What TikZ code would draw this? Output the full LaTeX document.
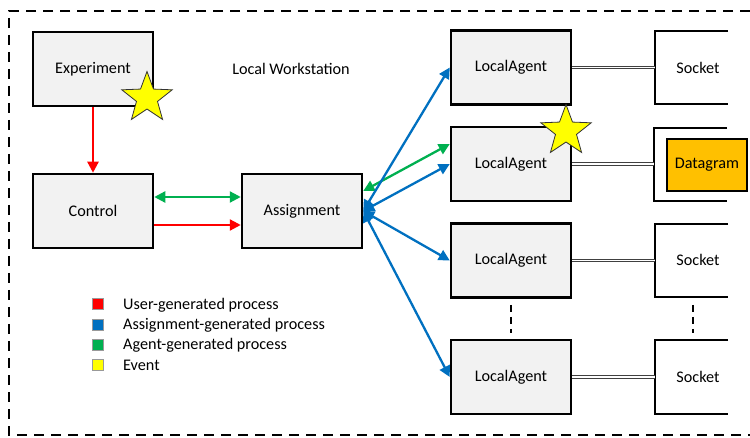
\documentclass[tikz,border=0pt]{standalone}
\usepackage{fontspec}
\setmainfont{Carlito}
\usetikzlibrary{arrows.meta,shapes.geometric}
\definecolor{boxgray}{HTML}{F2F2F2}
\definecolor{ured}{HTML}{FF0000}
\definecolor{ablue}{HTML}{0070C0}
\definecolor{agreen}{HTML}{00B050}
\definecolor{evyellow}{HTML}{FFFF00}
\definecolor{dgorange}{HTML}{FFC000}
\tikzset{
  proc/.style={draw=black, fill=boxgray, line width=2.5pt, minimum width=120pt, minimum height=74pt, inner sep=0pt},
  sockettext/.style={inner sep=0pt},
  bracket/.style={draw=black, line width=2.5pt},
  link/.style={draw=black!75, double=white, double distance=1.6pt, line width=0.8pt},
  flow/.style={line width=2.3pt, -{Triangle[length=11pt,width=11pt]}},
  dflow/.style={line width=2.3pt, {Triangle[length=11pt,width=11pt]}-{Triangle[length=11pt,width=11pt]}},
  event/.style={star, star points=5, star point ratio=2.4, minimum size=53pt, inner sep=0pt, fill=evyellow, draw=black!80, line width=0.8pt},
  legsq/.style={minimum width=11pt, minimum height=11pt, inner sep=0pt, draw=black!40, line width=0.4pt},
  legtext/.style={anchor=west, inner sep=0pt},
  sep/.style={line width=2.3pt, dash pattern=on 7pt off 5pt},
}
\begin{document}
\begin{tikzpicture}[x=1pt, y=-1pt, font=\fontsize{16.2}{19}\selectfont]
\useasboundingbox (0,0) rectangle (750,438);

% workstation boundary (open to the right)
\draw[line width=2.5pt, dash pattern=on 10pt off 7pt] (750,11) -- (9,11) -- (9,435) -- (750,435);
\node[inner sep=0pt] (ws) at (291,69) {Local Workstation};

% left-hand processes
\node[proc] (exp) at (93,69) {Experiment};
\node[proc] (ctl) at (93,211) {Control};
\node[proc] (asg) at (302,211) {Assignment};

% agents
\node[proc] (la1) at (511,67.5) {LocalAgent};
\node[proc] (la2) at (511,164) {LocalAgent};
\node[proc] (la3) at (511,260.5) {LocalAgent};
\node[proc] (la4) at (511,377) {LocalAgent};

% sockets: brackets open on the right
\coordinate (s1) at (655,67.5);
\coordinate (s2) at (654,164);
\coordinate (s3) at (655,260.5);
\coordinate (s4) at (655,377);
\draw[bracket] (728,31) -- (655,31) -- (655,104) -- (728,104);
\draw[bracket] (727,128) -- (654,128) -- (654,201) -- (727,201);
\draw[bracket] (728,224) -- (655,224) -- (655,297) -- (728,297);
\draw[bracket] (728,340) -- (655,340) -- (655,414) -- (728,414);
\node[sockettext] (sk1) at (698,67.5) {Socket};
\node[sockettext] (sk3) at (698,260) {Socket};
\node[sockettext] (sk4) at (698,377) {Socket};
\node[draw=black, fill=dgorange, line width=2.5pt, minimum width=80pt, minimum height=52pt, inner sep=0pt] (dg) at (707,165) {Datagram};

% agent-socket links
\draw[link] (la1.east) -- (s1);
\draw[link] (la2.east) -- (s2);
\draw[link] (la3.east) -- (s3);
\draw[link] (la4.east) -- (s4);

% elided rows
\draw[sep] (511,305) -- (511,333);
\draw[sep] (693,305) -- (693,333);

% user-generated flow
\draw[flow, ured] (exp.south) -- (ctl.north);
\draw[flow, ured] ([yshift=-14pt]ctl.east) -- ([yshift=-14pt]asg.west);

% agent-generated flow
\draw[dflow, agreen] ([yshift=14pt]ctl.east) -- ([yshift=14pt]asg.west);
\draw[dflow, agreen] ([yshift=20pt]asg.east) -- ([yshift=20pt]la2.west);

% assignment-generated flow
\draw[dflow, ablue] (asg.east) -- (la1.west);
\draw[dflow, ablue] (asg.east) -- (la2.west);
\draw[dflow, ablue] (asg.east) -- (la3.west);
\draw[dflow, ablue] (asg.east) -- (la4.west);

% events
\node[event] (ev1) at (147,98) {};
\node[event] (ev2) at (566,131) {};

% legend
\node[legsq, fill=ured] (k1) at (98,304) {};
\node[legsq, fill=ablue] (k2) at (98,325) {};
\node[legsq, fill=agreen] (k3) at (98,345) {};
\node[legsq, fill=evyellow] (k4) at (98,365) {};
\node[legtext] (t1) at (123,305) {User-generated process};
\node[legtext] (t2) at (123,325) {Assignment-generated process};
\node[legtext] (t3) at (123,345) {Agent-generated process};
\node[legtext] (t4) at (123,365) {Event};
\end{tikzpicture}
\end{document}
